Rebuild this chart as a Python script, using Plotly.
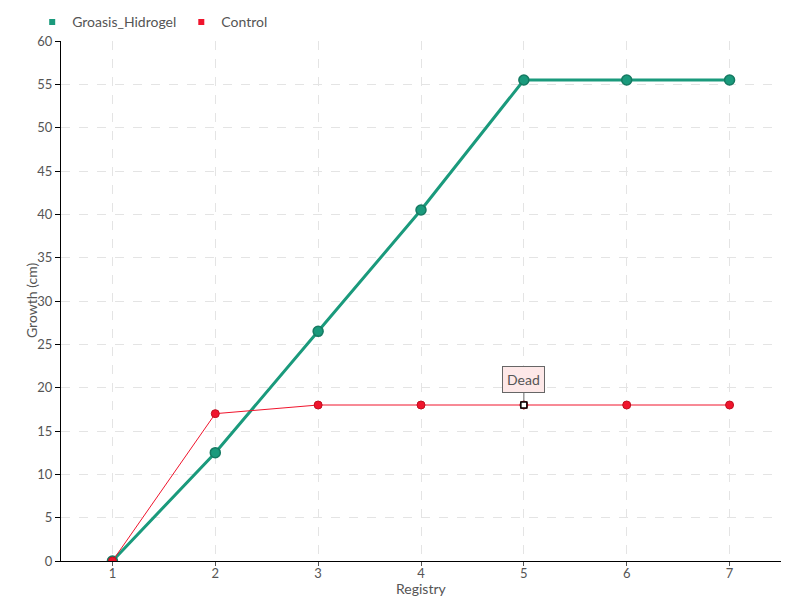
import plotly.graph_objects as go

registry = [1, 2, 3, 4, 5, 6, 7]
groasis = [0, 12.5, 26.5, 40.5, 55.5, 55.5, 55.5]
control = [0, 17, 18, 18, 18, 18, 18]
y_ticks = list(range(0, 61, 5))

FONT = "Lato, Roboto, sans-serif"
GREEN = "#1a9a7c"
RED = "#f0142c"

fig = go.Figure()
fig.add_trace(go.Scatter(
    x=registry, y=groasis, name="Groasis_Hidrogel", mode="lines+markers",
    line=dict(color=GREEN, width=3), showlegend=False,
    marker=dict(size=10, color=GREEN, line=dict(color="#157a62", width=1.5)),
))
fig.add_trace(go.Scatter(
    x=registry, y=control, name="Control", mode="lines+markers",
    line=dict(color=RED, width=1), showlegend=False,
    marker=dict(size=8, color=RED, line=dict(color="#c01020", width=1)),
))
# legend-only entries with square symbols
fig.add_trace(go.Scatter(
    x=[None], y=[None], name="Groasis_Hidrogel", mode="markers",
    marker=dict(size=6, color=GREEN, symbol="square"),
))
fig.add_trace(go.Scatter(
    x=[None], y=[None], name="Control", mode="markers",
    marker=dict(size=6, color=RED, symbol="square"),
))
# Dead marker
fig.add_trace(go.Scatter(
    x=[registry[4]], y=[control[4]], mode="markers", showlegend=False,
    marker=dict(size=6, color="white", symbol="square", line=dict(color="black", width=1.5)),
    hoverinfo="skip",
))
fig.add_annotation(
    x=registry[4], y=control[4], text="Dead", showarrow=True, arrowhead=0,
    arrowwidth=1, arrowcolor="#666", ax=0, ay=-22, yshift=4,
    bgcolor="#fde8e8", bordercolor="#666", borderwidth=1, borderpad=4,
    font=dict(family=FONT, size=14, color="#555"),
)
# axis titles as annotations for precise placement
fig.add_annotation(x=0.5, xref="paper", y=0, yref="paper", yanchor="top", yshift=-17,
                   text="Registry", showarrow=False, font=dict(size=14, color="#555"))
fig.add_annotation(x=0, xref="paper", y=0.5, yref="paper", xanchor="center", xshift=-30,
                   text="Growth (cm)", textangle=-90, showarrow=False,
                   font=dict(size=14, color="#555"))

fig.update_layout(
    width=800, height=600,
    margin=dict(l=53, r=27, t=33, b=47, autoexpand=False),
    paper_bgcolor="white", plot_bgcolor="white",
    font=dict(family=FONT, size=13, color="#555"),
    showlegend=True,
    legend=dict(orientation="h", x=-0.04, y=1.036, xanchor="left", yanchor="middle",
                font=dict(size=14, color="#555"), itemwidth=30, tracegroupgap=0,
                bgcolor="rgba(0,0,0,0)"),
)
fig.update_xaxes(
    range=[0.5, 7.5], tickvals=registry, ticks="outside", ticklen=4, tickcolor="#555",
    showline=True, linecolor="black", linewidth=1, automargin=False,
    ticklabelstandoff=-4,
    showgrid=True, gridcolor="#e4e4e4", griddash="dash", zeroline=False,
)
fig.update_yaxes(
    range=[0, 60], tickvals=y_ticks, ticks="outside", ticklen=5, tickcolor="black",
    showline=True, linecolor="black", linewidth=1, automargin=False,
    showgrid=True, gridcolor="#e4e4e4", griddash="dash", zeroline=False,
)
fig.write_html("out.html")
